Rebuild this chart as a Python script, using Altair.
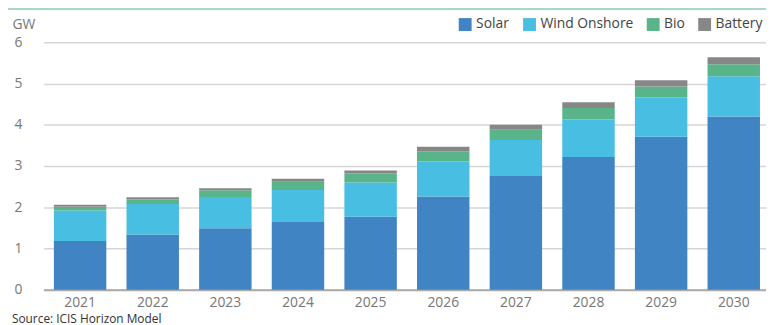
import altair as alt
import pandas as pd

years = ["2021", "2022", "2023", "2024", "2025", "2026", "2027", "2028", "2029", "2030"]
names = ["Solar", "Wind Onshore", "Bio", "Battery"]
colors = ["#4084c4", "#48bee3", "#59b489", "#878787"]
solar = [1.18, 1.34, 1.49, 1.64, 1.77, 2.26, 2.76, 3.22, 3.71, 4.20]
wind = [0.74, 0.74, 0.76, 0.78, 0.83, 0.85, 0.87, 0.91, 0.95, 0.98]
bio = [0.09, 0.11, 0.16, 0.20, 0.22, 0.25, 0.25, 0.28, 0.27, 0.29]
battery = [0.05, 0.05, 0.05, 0.07, 0.07, 0.11, 0.12, 0.14, 0.15, 0.17]
y_ticks = [0, 1, 2, 3, 4, 5, 6]

series = [solar, wind, bio, battery]
rows = []
for i, yr in enumerate(years):
    for k, name in enumerate(names):
        rows.append({"year": yr, "source": name, "gw": series[k][i], "order": k})
df = pd.DataFrame(rows)

FONT = "Open Sans"

bars = alt.Chart(df).mark_bar().encode(
    x=alt.X("year:N", sort=years,
            scale=alt.Scale(paddingInner=0.278, paddingOuter=0.112, align=0.63),
            axis=alt.Axis(title=None, labelAngle=0, ticks=False, grid=False,
                          domainColor="#aaaaaa", domainWidth=2, labelPadding=6,
                          labelFontSize=14, labelColor="#777777", labelFont=FONT)),
    y=alt.Y("gw:Q", stack="zero", scale=alt.Scale(domain=[0, 6]),
            axis=alt.Axis(values=y_ticks, title="GW", titleAngle=0, titleX=-32, titleY=-14,
                          titleAlign="left", titleBaseline="alphabetic", titleFontSize=14,
                          titleFontWeight="normal", titleColor="#777777", titleFont=FONT,
                          ticks=False, domain=False, gridColor="#d6d6d6", gridWidth=1.5,
                          labelPadding=22, labelFontSize=14, labelColor="#777777",
                          labelFont=FONT)),
    color=alt.Color("source:N", scale=alt.Scale(domain=names, range=colors),
                    legend=alt.Legend(title=None, orient="none", legendX=419, legendY=-25,
                                      direction="horizontal", symbolType="square",
                                      symbolSize=169, symbolStrokeWidth=0,
                                      labelFontSize=14, labelFont=FONT, labelColor="#444444",
                                      columnPadding=13, labelOffset=4)),
    order=alt.Order("order:Q"),
)

topline = alt.Chart(df).mark_rule(color="#a9d9c5", strokeWidth=2).encode(
    x=alt.value(-44), x2=alt.value(730), y=alt.value(-34)
)

chart = alt.layer(topline, bars).properties(
    width=730, height=250,
    autosize=alt.AutoSizeParams(type="none"),
    padding={"left": 36, "top": 33, "right": 0, "bottom": 40},
    title=alt.TitleParams(text="Source: ICIS Horizon Model", orient="bottom", anchor="start",
                          dx=13, fontSize=12, font=FONT, color="#333333",
                          fontWeight="normal", offset=5, baseline="top"),
).configure_view(stroke=None)

chart.save("out.html", embed_options={"renderer": "svg", "actions": False})
